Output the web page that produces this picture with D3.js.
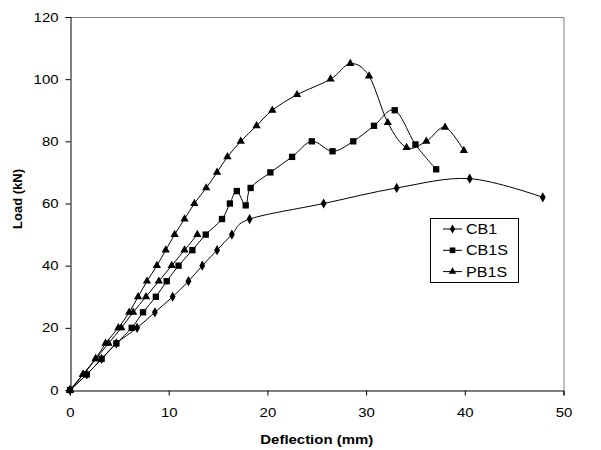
<!DOCTYPE html>
<html>
<head>
<meta charset="utf-8">
<script src="https://cdn.jsdelivr.net/npm/d3@7"></script>
<style>
  body { margin: 0; background: #fff; }
  text { font-family: "Liberation Sans", Arial, sans-serif; fill: #000; }
</style>
</head>
<body>
<svg id="svg" width="601" height="450"></svg>
<script>
// load-deflection readings (mm, kN)
const cb1X = [0, 1.7, 3.2, 4.7, 6.8, 8.6, 10.4, 12.0, 13.4, 14.9, 16.4, 18.2, 25.7, 33.1, 40.5, 47.9]
const cb1Y = [0, 5, 10, 15, 20, 25, 30, 35, 40, 45, 50, 55, 60, 65, 68, 62]

const cb1sX = [0, 1.7, 3.2, 4.7, 6.25, 7.4, 8.7, 9.8, 11.0, 12.4, 13.75, 15.4, 16.2, 16.9, 17.8, 18.3, 20.3, 22.5, 24.5, 26.6, 28.7, 30.8, 32.9, 35.0, 37.1]
const cb1sY = [0, 5, 10, 15, 20, 25, 30, 35, 40, 45, 50, 55, 60, 64, 59.4, 65, 70, 75, 80, 76.8, 80, 85, 90, 79, 71]

const pb1sX = [0, 1.35, 2.6, 3.6, 4.9, 6.0, 6.9, 7.8, 8.8, 9.7, 10.6, 11.6, 12.6, 13.8, 14.9, 15.95, 17.3, 18.9, 20.5, 23.0, 26.4, 28.4, 30.3, 32.2, 34.1, 36.1, 38.0, 39.9]
const pb1sY = [0, 5, 10, 15, 20, 25, 30, 35, 40, 45, 50, 55, 60, 65, 70, 75, 80, 85, 90, 95, 100, 105, 101, 86, 78, 80, 84.5, 77]

// first loading of PB1S (not in legend)
const pb1sPreX = [0, 1.3, 2.6, 3.9, 5.2, 6.4, 7.7, 9.0, 10.3, 11.6, 12.9]
const pb1sPreY = [0, 5, 10, 15, 20, 25, 30, 35, 40, 45, 50]

const xTicks = [0, 10, 20, 30, 40, 50]
const yTicks = [0, 20, 40, 60, 80, 100, 120]

let svg = d3.select('#svg')
let sx = 1.15 // text in the original is stretched a bit

let x = d3.scaleLinear().domain([0, 50]).range([70, 563.5])
let y = d3.scaleLinear().domain([0, 120]).range([390, 17])

let zip = (xs, ys) => xs.map((v, i) => [v, ys[i]])

let series = [
  { name: 'CB1', data: zip(cb1X, cb1Y), sym: d3.symbolDiamond, size: 30, legend: true },
  { name: 'CB1S', data: zip(cb1sX, cb1sY), sym: d3.symbolSquare, size: 40, legend: true },
  { name: 'PB1S', data: zip(pb1sX, pb1sY), sym: d3.symbolTriangle, size: 30, legend: true },
  { name: 'PB1S pre', data: zip(pb1sPreX, pb1sPreY), sym: d3.symbolTriangle, size: 30, legend: false }
]

// frame top/right
svg.append('path')
  .attr('d', `M${x(0)},${y(120) + 0.5}H${x(50) + 0.5}V${y(0)}`)
  .attr('fill', 'none')
  .attr('stroke', '#808080')
  .attr('stroke-width', 1)

let xAxis = svg.append('g')
  .attr('transform', `translate(0,${y(0) + 0.5})`)
  .call(d3.axisBottom(x).tickValues(xTicks).tickSizeOuter(0).tickSize(5).tickPadding(12))
let yAxis = svg.append('g')
  .attr('transform', `translate(${x(0) + 0.5},0)`)
  .call(d3.axisLeft(y).tickValues(yTicks).tickSizeOuter(0).tickSize(5).tickPadding(7))

svg.selectAll('.domain').attr('stroke', '#000')
svg.selectAll('.tick line').attr('stroke', '#000')
svg.selectAll('.tick text')
  .attr('font-size', 13)
  .attr('font-family', '"Liberation Sans", Arial, sans-serif')
yAxis.selectAll('.tick text')
  .attr('x', -12 / sx)
  .attr('transform', `scale(${sx},1)`)
xAxis.selectAll('.tick text')
  .attr('transform', `scale(${sx},1)`)

let line = d3.line()
  .x(d => x(d[0]))
  .y(d => y(d[1]))
  .curve(d3.curveCardinal.tension(0))

series.forEach(s => {
  svg.append('path')
    .attr('d', line(s.data))
    .attr('fill', 'none')
    .attr('stroke', '#000')
    .attr('stroke-width', 1)
  svg.selectAll(null)
    .data(s.data)
    .enter()
    .append('path')
    .attr('d', d3.symbol().type(s.sym).size(s.size))
    .attr('transform', d => `translate(${x(d[0])},${y(d[1])})`)
    .attr('fill', '#000')
})

// axis titles
svg.append('text')
  .attr('transform', `translate(${(x(0) + x(50)) / 2},444) scale(${sx},1)`)
  .attr('text-anchor', 'middle')
  .attr('font-size', 13)
  .attr('font-weight', 'bold')
  .text('Deflection (mm)')

svg.append('text')
  .attr('transform', 'translate(22,199) rotate(-90)')
  .attr('text-anchor', 'middle')
  .attr('font-size', 13)
  .attr('font-weight', 'bold')
  .text('Load (kN)')

// legend
let legend = svg.append('g').attr('transform', 'translate(430,218)')
legend.append('rect')
  .attr('x', 0.5).attr('y', 0.5)
  .attr('width', 88).attr('height', 64)
  .attr('fill', '#fff')
  .attr('stroke', '#000')

series.filter(s => s.legend).forEach((s, i) => {
  let ly = 11 + i * 21.3
  legend.append('line')
    .attr('x1', 13).attr('x2', 32)
    .attr('y1', ly).attr('y2', ly)
    .attr('stroke', '#000')
  legend.append('path')
    .attr('d', d3.symbol().type(s.sym).size(s.size * 0.8))
    .attr('transform', `translate(22.5,${ly})`)
  legend.append('text')
    .attr('transform', `translate(36,${ly + 5}) scale(${sx},1)`)
    .attr('font-size', 14)
    .text(s.name)
})
</script>
</body>
</html>
